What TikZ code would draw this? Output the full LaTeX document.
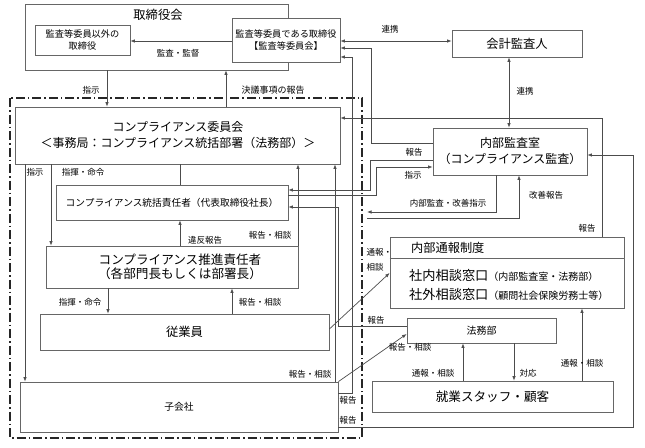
\documentclass[tikz,border=0pt]{standalone}
\usepackage{fontspec}
\newfontfamily\jp{Noto Sans CJK JP}
\usetikzlibrary{arrows.meta}
\begin{document}
\begin{tikzpicture}[x=1pt,y=-1pt,
  box/.style={draw=black!60, line width=0.8pt, fill=white, inner sep=0pt},
  ln/.style={draw=black!70, line width=0.7pt},
  arr/.style={ln, -{Latex[length=4.5pt,width=3.5pt]}},
  dbl/.style={ln, {Latex[length=4.5pt,width=3.5pt]}-{Latex[length=4.5pt,width=3.5pt]}},
  lbl/.style={font=\jp\fontsize{8.5}{10}\selectfont, inner sep=0.5pt},
  mid/.style={font=\jp\fontsize{9.2}{12.5}\selectfont, align=center, inner sep=0pt},
  big/.style={font=\jp\fontsize{12.3}{14.5}\selectfont, align=center, inner sep=0pt},
  border/.style={draw=black!85, line width=1.1pt, dash pattern=on 9pt off 3pt on 1.5pt off 3pt}
  ]
\useasboundingbox (0,0) rectangle (645,447);

% boundary of the compliance organisation
\draw[border] (10,98) rectangle (362,438);

% board of directors
\node[box, minimum width=263pt, minimum height=66pt] (tori) at (156.5,37) {};
\node[big] (toritxt) at (158,15) {取締役会};
\node[box, minimum width=95pt, minimum height=30pt, mid] (igai) at (82.5,40) {監査等委員以外の\\取締役};
\node[box, minimum width=108pt, minimum height=44pt, mid] (kansa) at (286,40) {監査等委員である取締役\\【監査等委員会】};
\node[box, minimum width=130pt, minimum height=27pt, big] (kaikei) at (517,43.5) {会計監査人};
\node[box, minimum width=154pt, minimum height=47pt, big, font=\jp\fontsize{12}{16}\selectfont] (naibu) at (510,151.5) {内部監査室\\（コンプライアンス監査）};

% compliance organisation
\node[box, minimum width=325pt, minimum height=57pt] (iinkai) at (177.5,135.5) {};
\node[big, font=\jp\fontsize{12}{16}\selectfont] (iinkaitxt) at (178,135.5) {コンプライアンス委員会\\＜事務局：コンプライアンス統括部署（法務部）＞};
\node[box, minimum width=232pt, minimum height=35pt, font=\jp\fontsize{9.7}{12}\selectfont] (tokatsu) at (172,202.5) {コンプライアンス統括責任者（代表取締役社長）};
\node[box, minimum width=252pt, minimum height=42pt] (suishin) at (172,267) {};
\node[big, font=\jp\fontsize{12.6}{14}\selectfont] (suishintxt) at (180,267) {コンプライアンス推進責任者\\（各部門長もしくは部署長）};
\node[box, minimum width=289pt, minimum height=36pt, big] (jugyo) at (184.5,332) {従業員};
\node[box, minimum width=318pt, minimum height=50pt, font=\jp\fontsize{9.8}{12}\selectfont] (kogai) at (179,407) {子会社};

% whistleblowing system
\node[box, minimum width=234pt, minimum height=71pt] (tsuho) at (507,272.5) {};
\draw[box] (tsuho.west |- 0,258) -- (tsuho.east |- 0,258);
\node[anchor=west, inner sep=0pt, font=\jp\fontsize{12.2}{14}\selectfont] (tsuhotxt) at (411,247.5) {内部通報制度};
\node[anchor=west, inner sep=0pt] (shanai) at (409,275) {{\jp\fontsize{13.2}{15}\selectfont 社内相談窓口}{\jp\fontsize{10}{12}\selectfont （内部監査室・法務部）}};
\node[anchor=west, inner sep=0pt] (shagai) at (409,294) {{\jp\fontsize{13.2}{15}\selectfont 社外相談窓口}{\jp\fontsize{10}{12}\selectfont （顧問社会保険労務士等）}};

\node[box, minimum width=149pt, minimum height=25pt, font=\jp\fontsize{10}{12}\selectfont] (homu) at (481.5,330.5) {法務部};
\node[box, minimum width=241pt, minimum height=31pt, font=\jp\fontsize{12.6}{14}\selectfont] (staff) at (492.5,396.5) {就業スタッフ・顧客};

\coordinate (bndA) at (367,212);
\coordinate (bndB) at (367,218);

% connectors
\draw[arr] (kansa.west |- 0,41) -- (igai.east |- 0,41);
\draw[dbl] (kansa.east |- 0,41) -- (kaikei.west |- 0,41);
\draw[dbl] (509,0 |- kaikei.south) -- (509,0 |- naibu.north);
\draw[arr] (107,0 |- tori.south) -- (107,0 |- iinkai.north);
\draw[arr] (226,0 |- iinkai.north) -- (226,0 |- tori.south);
\draw[arr] (25,0 |- iinkai.south) -- (25,0 |- kogai.north);
\draw[arr] (51,0 |- iinkai.south) -- (51,0 |- suishin.north);
\draw[ln] (180,0 |- iinkai.south) -- (180,0 |- tokatsu.north);
\draw[arr] (180,0 |- suishin.north) -- (180,0 |- tokatsu.south);
\draw[arr] (298,0 |- suishin.north) -- (298,0 |- iinkai.south);
\draw[arr] (108,0 |- suishin.south) -- (108,0 |- jugyo.north);
\draw[arr] (232,0 |- jugyo.north) -- (232,0 |- suishin.south);
\draw[arr] (335,0 |- kogai.north) -- (335,0 |- iinkai.south);
\draw[arr] (homu.west |- 0,326) -| (338,207) -- (tokatsu.east |- 0,207);
\draw[arr] (kogai.east |- 0,393) -| (352,57) -- (kansa.east |- 0,57);
\draw[arr] (naibu.west |- 0,143) -| (371,48) -- (kansa.east |- 0,48);
\draw[arr] (naibu.west |- 0,160) -| (370,190) -- (tokatsu.east |- 0,190);
\draw[arr] (tokatsu.east |- 0,195) -| (376,167) -- (naibu.west |- 0,167);
\draw[arr] (496,0 |- naibu.south) |- (bndA);
\draw[arr] (bndB) -| (519,0 |- naibu.south);
\draw[arr] (602,0 |- tsuho.north) |- (iinkai.east |- 0,118);
\draw[arr] (jugyo.east |- 0,329) -- (tsuho.west |- 0,273);
\draw[arr] (kogai.north east) -- (homu.west |- 0,334);
\draw[arr] (kogai.east |- 0,427) -| (633,155) -- (naibu.east |- 0,155);
\draw[arr] (463,0 |- staff.north) -- (463,0 |- homu.south);
\draw[arr] (514,0 |- homu.south) -- (514,0 |- staff.north);
\draw[arr] (582,0 |- staff.north) -- (582,0 |- tsuho.south);

% labels
\node[lbl] at (178,53) {監査・監督};
\node[lbl] at (390,29) {連携};
\node[lbl] at (525,91) {連携};
\node[lbl] at (91,90) {指示};
\node[lbl, font=\jp\fontsize{9}{10}\selectfont] at (273,90) {決議事項の報告};
\node[lbl] at (414,152) {報告};
\node[lbl] at (413,175) {指示};
\node[lbl] at (448,203) {内部監査・改善指示};
\node[lbl] at (546,195) {改善報告};
\node[lbl] at (35,172) {指示};
\node[lbl] at (83,172) {指揮・命令};
\node[lbl] at (205,240) {違反報告};
\node[lbl] at (270,235) {報告・相談};
\node[lbl] at (80,302) {指揮・命令};
\node[lbl] at (260,302) {報告・相談};
\node[lbl, anchor=west, align=left, font=\jp\fontsize{8.5}{15}\selectfont] at (366,260) {通報・\\相談};
\node[lbl] at (587,228) {報告};
\node[lbl] at (376,320) {報告};
\node[lbl] at (410,347) {報告・相談};
\node[lbl] at (310,374) {報告・相談};
\node[lbl] at (348,400) {報告};
\node[lbl] at (348,420) {報告};
\node[lbl] at (433,373) {通報・相談};
\node[lbl] at (528,373) {対応};
\node[lbl] at (582,363) {通報・相談};
\end{tikzpicture}
\end{document}
